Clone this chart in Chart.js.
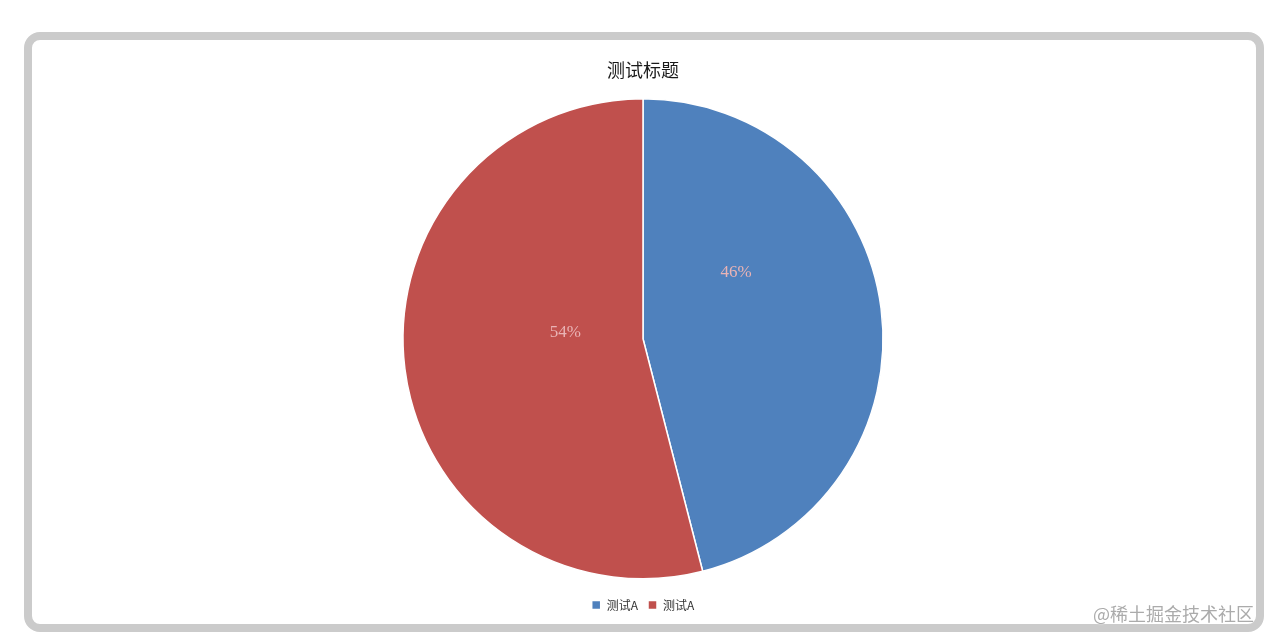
<!DOCTYPE html>
<html>
<head>
<meta charset="utf-8">
<script src="https://cdn.jsdelivr.net/npm/chart.js"></script>
<style>
  html, body { margin: 0; padding: 0; background: #fff; }
  body { width: 1273px; height: 644px; position: relative; overflow: hidden; }
  #frame {
    position: absolute; left: 24px; top: 32px; width: 1240px; height: 600px;
    box-sizing: border-box; border: 8px solid #cbcbcb; border-radius: 16px; background: #fff;
  }
  #myChart { position: absolute; left: 0; top: 0; }
  #mark {
    position: absolute; right: 19px; top: 600px;
    font: 18px "Noto Sans CJK SC", sans-serif; color: #ababab;
    text-shadow: 0 0 2px #fff;
  }
</style>
</head>
<body>
<div id="frame"></div>
<canvas id="myChart" width="1273" height="644"></canvas>
<div id="mark">@稀土掘金技术社区</div>
<script>
const titleText = "测试标题";
const categories = ["测试A", "测试A"];
const values = [46, 54];
const colors = ["#4f81bd", "#c0504d"];

// where each percentage sits inside its slice: share of the sweep, share of the radius
const labelSweep = [0.33, 0.56];
const labelRadius = [0.475, 0.325];

const total = values.reduce((a, b) => a + b, 0);

const pieLabels = {
    id: 'pieLabels',
    afterDatasetsDraw(chart) {
        const ctx = chart.ctx;
        const meta = chart.getDatasetMeta(0);
        ctx.save();
        ctx.font = '17px "Liberation Serif", "DejaVu Serif", serif';
        ctx.fillStyle = '#e9b3b5';
        ctx.textAlign = 'center';
        ctx.textBaseline = 'middle';
        meta.data.forEach((arc, i) => {
            const p = arc.getProps(['x', 'y', 'startAngle', 'endAngle', 'outerRadius'], true);
            const a = p.startAngle + labelSweep[i] * (p.endAngle - p.startAngle);
            const r = p.outerRadius * labelRadius[i];
            const pct = Math.round(values[i] / total * 100) + '%';
            ctx.fillText(pct, p.x + Math.cos(a) * r, p.y + Math.sin(a) * r);
        });
        ctx.restore();
    }
};

const myChart = new Chart(document.getElementById('myChart'), {
    type: 'pie',
    data: {
        labels: categories,
        datasets: [{
            data: values,
            backgroundColor: colors,
            borderColor: '#ffffff',
            borderWidth: 1.5,
            radius: 240
        }]
    },
    options: {
        responsive: false,
        animation: false,
        layout: {
            padding: { left: 13, right: 0, top: 0, bottom: 23 }
        },
        plugins: {
            title: {
                display: true,
                text: titleText,
                color: '#1a1a1a',
                font: { family: '"Noto Sans CJK SC", sans-serif', size: 18, weight: 'normal' },
                padding: { top: 59, bottom: 8 }
            },
            legend: {
                position: 'bottom',
                labels: {
                    boxWidth: 9,
                    boxHeight: 9,
                    padding: 10,
                    color: '#333',
                    font: { family: '"Noto Sans CJK SC", sans-serif', size: 12 }
                }
            },
            tooltip: { enabled: false }
        }
    },
    plugins: [pieLabels]
});
</script>
</body>
</html>
